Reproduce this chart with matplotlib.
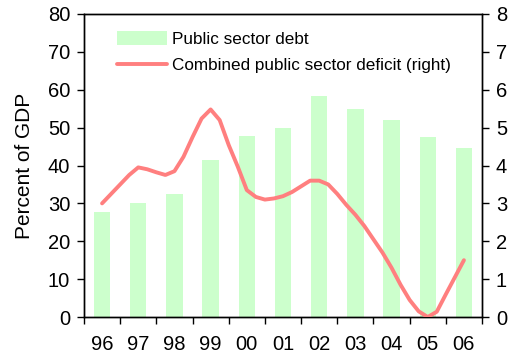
import matplotlib.pyplot as plt
import numpy as np

plt.rcParams['font.family'] = ['Liberation Sans', 'DejaVu Sans']

years = ['96', '97', '98', '99', '00', '01', '02', '03', '04', '05', '06']
debt = [27.7, 30.2, 32.6, 41.4, 47.8, 49.9, 58.3, 54.9, 52.0, 47.5, 44.6]

# quarterly deficit, 96Q1 .. 06Q1
deficit = [3.00, 3.25, 3.50, 3.75, 3.95, 3.90, 3.82, 3.75,
           3.85, 4.23, 4.75, 5.24, 5.48, 5.20, 4.54, 3.97,
           3.35, 3.17, 3.10, 3.13, 3.19, 3.30, 3.45, 3.60,
           3.60, 3.50, 3.25, 2.96, 2.70, 2.40, 2.05, 1.70,
           1.30, 0.85, 0.45, 0.15, 0.00, 0.14, 0.60, 1.05, 1.50]

fig = plt.figure(figsize=(5.13, 3.58), dpi=100)
ax = fig.add_axes([0.1637, 0.1145, 0.7759, 0.8464])
x = np.arange(len(years))
ax.bar(x, debt, width=0.45, color='#ccffcc', label='Public sector debt', zorder=1)
ax.set_xlim(-0.5, len(years) - 0.5)
ax.set_ylim(0, 80)
ax.set_yticks(range(0, 81, 10))
ax.set_ylabel('Percent of GDP', fontsize=15, labelpad=10)

# year boundaries get tick marks, labels sit in between
ax.set_xticks(np.arange(-0.5, len(years), 1.0))
ax.set_xticklabels([])
ax.set_xticks(x, minor=True)
ax.set_xticklabels(years, minor=True, fontsize=14.5)
ax.tick_params(axis='x', which='major', direction='out', length=5, width=1)
ax.tick_params(axis='x', which='minor', length=0, pad=13)
ax.tick_params(axis='y', direction='out', length=5, width=1, labelsize=14.5, pad=5)

ax2 = ax.twinx()
qx = np.arange(len(deficit)) * 0.25
ln, = ax2.plot(qx, deficit, color='#ff7f7f', lw=2.8, solid_capstyle='round',
               label='Combined public sector deficit (right)', zorder=3)
ax2.set_ylim(0, 8)
ax2.set_yticks(range(0, 9))
ax2.tick_params(axis='y', direction='out', length=5, width=1, labelsize=14.5, pad=5)

for a in (ax, ax2):
    for s in a.spines.values():
        s.set_linewidth(1)

h1, l1 = ax.get_legend_handles_labels()
ax.legend(h1 + [ln], l1 + [ln.get_label()], loc='upper left',
          bbox_to_anchor=(0.066, 0.965), frameon=False, fontsize=12.3,
          handlelength=2.9, handleheight=0.8, handletextpad=0.3,
          labelspacing=0.65, borderaxespad=0)

fig.savefig('out.png', dpi=100)
